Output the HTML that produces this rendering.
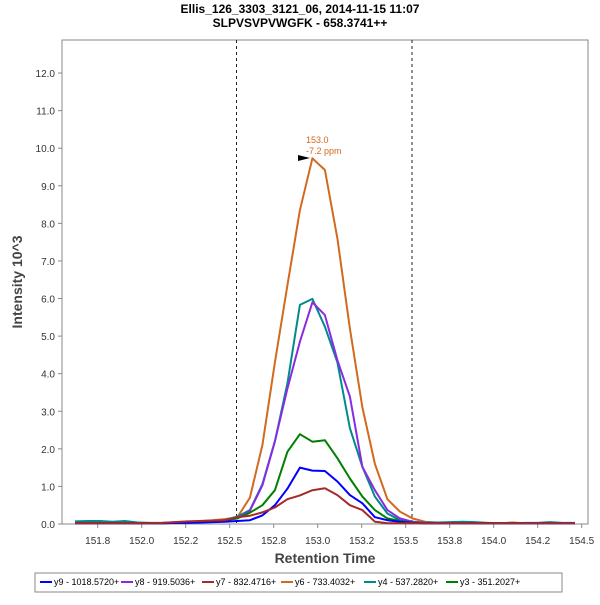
<!DOCTYPE html>
<html><head><meta charset="utf-8"><style>
body{margin:0;background:#fff;font-family:"Liberation Sans",sans-serif;}
svg text{font-family:"Liberation Sans",sans-serif;}
</style></head><body>
<svg id="chart" width="600" height="600" viewBox="0 0 600 600">
<text x="300" y="13" text-anchor="middle" font-size="12" font-weight="bold">Ellis_126_3303_3121_06, 2014-11-15 11:07</text>
<text x="300" y="27" text-anchor="middle" font-size="12" font-weight="bold">SLPVSVPVWGFK - 658.3741++</text>
<rect x="62" y="40" width="526" height="484" fill="#fff" stroke="#888"/>
<g id="yaxis"></g>
<g id="xaxis"></g>
<line x1="236.5" y1="40" x2="236.5" y2="524" stroke="#222" stroke-dasharray="3,3"/>
<line x1="412" y1="40" x2="412" y2="524" stroke="#222" stroke-dasharray="3,3"/>
<g id="series"></g>
<text x="306" y="143" font-size="9" fill="#d2691e">153.0</text>
<text x="306" y="154" font-size="9" fill="#d2691e">-7.2 ppm</text>
<polygon points="298,155 310,158 298,161" fill="#000"/>
<text x="22" y="282" font-size="14" font-weight="bold" fill="#444" text-anchor="middle" transform="rotate(-90 22 282)">Intensity 10^3</text>
<text x="325" y="563" font-size="14" font-weight="bold" fill="#444" text-anchor="middle">Retention Time</text>
<rect x="35" y="573" width="527" height="19" fill="#fff" stroke="#888"/>
<g id="legend"></g>
</svg>
<script>
const yTicks=[0,1,2,3,4,5,6,7,8,9,10,11,12];
const xTickValues=[151.75,152.0,152.25,152.5,152.75,153.0,153.25,153.5,153.75,154.0,154.25,154.5];
const xTickLabels=["151.8","152.0","152.2","152.5","152.8","153.0","153.2","153.5","153.8","154.0","154.2","154.5"];
const times=[];for(let i=0;i<41;i++)times.push(+(152.97+0.071*(i-19)).toFixed(3));
const seriesNames=["y9 - 1018.5720+","y8 - 919.5036+","y7 - 832.4716+","y6 - 733.4032+","y4 - 537.2820+","y3 - 351.2027+"];
const seriesColors=["#0000ff","#8a2be2","#a52a2a","#d2691e","#008b8b","#008000"];
const y9=[0.02,0.02,0.02,0.02,0.02,0.02,0.02,0.02,0.03,0.03,0.04,0.05,0.06,0.08,0.1,0.23,0.5,0.94,1.5,1.42,1.41,1.13,0.77,0.55,0.18,0.1,0.06,0.03,0.02,0.02,0.02,0.02,0.02,0.02,0.02,0.02,0.02,0.02,0.02,0.02,0.02];
const y8=[0.02,0.02,0.02,0.02,0.02,0.02,0.02,0.02,0.03,0.04,0.05,0.07,0.1,0.15,0.35,1.03,2.2,3.6,4.85,5.9,5.56,4.36,3.39,1.52,0.9,0.37,0.15,0.06,0.03,0.02,0.02,0.02,0.02,0.02,0.02,0.02,0.02,0.02,0.02,0.02,0.02];
const y7=[0.02,0.02,0.02,0.02,0.02,0.02,0.02,0.03,0.05,0.07,0.08,0.09,0.1,0.18,0.22,0.31,0.44,0.66,0.76,0.9,0.95,0.77,0.5,0.37,0.06,0.02,0.02,0.02,0.02,0.02,0.02,0.02,0.02,0.02,0.02,0.02,0.02,0.02,0.02,0.02,0.02];
const y6=[0.02,0.03,0.03,0.03,0.02,0.02,0.02,0.03,0.05,0.06,0.08,0.1,0.13,0.18,0.7,2.1,4.3,6.35,8.35,9.73,9.42,7.6,5.2,3.1,1.6,0.66,0.33,0.15,0.06,0.04,0.03,0.03,0.03,0.03,0.02,0.04,0.02,0.02,0.02,0.02,0.02];
const y4=[0.07,0.08,0.08,0.06,0.08,0.04,0.03,0.03,0.03,0.04,0.05,0.06,0.1,0.2,0.37,1.06,2.2,3.74,5.83,5.99,5.25,4.3,2.55,1.52,0.73,0.28,0.1,0.06,0.04,0.04,0.05,0.06,0.05,0.03,0.02,0.02,0.03,0.03,0.05,0.03,0.03];
const y3=[0.02,0.02,0.02,0.02,0.02,0.02,0.02,0.02,0.03,0.04,0.05,0.07,0.1,0.15,0.3,0.5,0.9,1.92,2.39,2.19,2.23,1.75,1.21,0.73,0.37,0.15,0.08,0.04,0.02,0.02,0.02,0.02,0.02,0.02,0.02,0.02,0.02,0.02,0.02,0.02,0.02];
const allSeries=[y9,y8,y7,y6,y4,y3];
const NS="http://www.w3.org/2000/svg";
function xs(t){return 97.7+(t-151.75)*176;}
function ys(v){return 524-v*37.58;}
function mk(tag,attrs,parent){const e=document.createElementNS(NS,tag);for(const k in attrs)e.setAttribute(k,attrs[k]);parent.appendChild(e);return e;}
const ya=document.getElementById('yaxis');
yTicks.forEach(v=>{
  const l=mk('line',{x1:58,x2:62,y1:ys(v),y2:ys(v),stroke:'#888'},ya);
  
  
  const t=mk('text',{x:55,y:ys(v)+4,'font-size':10,'text-anchor':'end',fill:'#333'},ya);
  t.textContent=v.toFixed(1);
  
  
});
const xa=document.getElementById('xaxis');
xTickValues.forEach((v,i)=>{
  const l=mk('line',{x1:xs(v),x2:xs(v),y1:524,y2:528,stroke:'#888'},xa);
  
  
  const t=mk('text',{x:xs(v),y:544,'font-size':10,'text-anchor':'middle',fill:'#333'},xa);
  t.textContent=xTickLabels[i];
  
  
});
const sg=document.getElementById('series');
const order=[3,4,1,5,0,2];
order.forEach(si=>{
  const pts=allSeries[si].map((v,i)=>xs(times[i]).toFixed(1)+','+ys(v).toFixed(1)).join(' ');
  const p=mk('polyline',{points:pts,fill:'none',stroke:seriesColors[si],'stroke-width':2,'stroke-linejoin':'round'},sg);
  
  
});
const lg=document.getElementById('legend');
const lx=[40,121,202,281,364,446];
seriesNames.forEach((n,i)=>{
  const l=mk('line',{x1:lx[i],x2:lx[i]+12,y1:582,y2:582,stroke:seriesColors[i],'stroke-width':2},lg);
  
  
  const t=mk('text',{x:lx[i]+14,y:585,'font-size':9,fill:'#000'},lg);
  t.textContent=n;
  
  
});
</script>
</body></html>
